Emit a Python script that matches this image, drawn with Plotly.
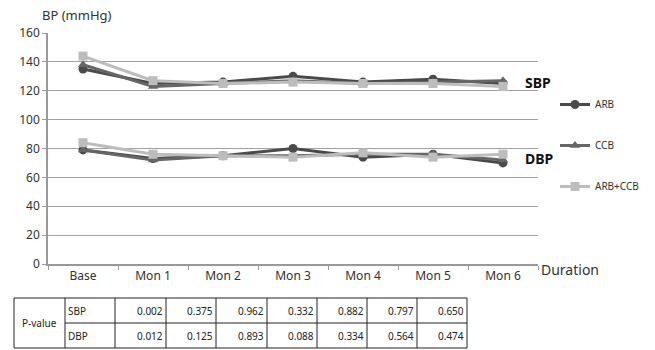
import plotly.graph_objects as go

categories = ["Base", "Mon 1", "Mon 2", "Mon 3", "Mon 4", "Mon 5", "Mon 6"]
sbp_arb = [135, 125, 126, 130, 126, 128, 125]
sbp_ccb = [138, 123, 125, 127, 125, 126, 127]
sbp_combo = [144, 127, 125, 126, 125, 125, 123]
dbp_arb = [79, 73, 75, 80, 74, 76, 70]
dbp_ccb = [79, 72, 75, 75, 76, 76, 72]
dbp_combo = [84, 76, 75, 74, 77, 74, 76]

pval_rows = ["SBP", "DBP"]
pval_sbp = ["0.002", "0.375", "0.962", "0.332", "0.882", "0.797", "0.650"]
pval_dbp = ["0.012", "0.125", "0.893", "0.088", "0.334", "0.564", "0.474"]

series = [
    ("ARB", sbp_arb, dbp_arb, "#4a4a4a", "circle"),
    ("CCB", sbp_ccb, dbp_ccb, "#666666", "triangle-up"),
    ("ARB+CCB", sbp_combo, dbp_combo, "#bdbdbd", "square"),
]

FONT = "Noto Sans"
fig = go.Figure()
for i, (name, s, d, col, sym) in enumerate(series):
    for j, vals in enumerate([s, d]):
        fig.add_trace(go.Scatter(
            x=categories, y=vals, mode="lines+markers", name=name,
            legendgroup=name, showlegend=(j == 0),
            line=dict(color=col, width=3),
            marker=dict(symbol=sym, size=9, color=col),
        ))

fig.update_layout(
    width=655, height=350,
    margin=dict(l=48, r=117, t=33, b=86),
    plot_bgcolor="white", paper_bgcolor="white",
    font=dict(family=FONT, size=12, color="#333333"),
    showlegend=True,
    legend=dict(xref="container", yref="container", x=555 / 655, y=1 - 90 / 350,
                xanchor="left", yanchor="top",
                font=dict(size=10, color="#333333"), tracegroupgap=22,
                itemwidth=30, bgcolor="rgba(0,0,0,0)"),
    xaxis=dict(type="category", showgrid=False, showline=True,
               linecolor="#999999", linewidth=1.5, ticks="outside",
               tickson="boundaries", ticklen=4, tickcolor="#999999",
               tickfont=dict(size=12, color="#333333"), range=[-0.5, 6.5]),
    yaxis=dict(range=[0, 160], dtick=20, showgrid=True, gridcolor="#a0a0a0",
               gridwidth=1.2, showline=True, linecolor="#999999", linewidth=1.5,
               ticks="outside", ticklen=4, tickcolor="#999999",
               tickfont=dict(size=12, color="#333333"), zeroline=False),
)

# Axis titles and series labels
fig.add_annotation(x=-0.016, y=1.0, xref="paper", yref="paper", yshift=7,
                   text="BP (mmHg)", showarrow=False, xanchor="left", yanchor="bottom",
                   font=dict(size=13, color="#333333"))
fig.add_annotation(x=1.0, y=0, xref="paper", yref="y", text="Duration", xshift=1, yshift=-5,
                   showarrow=False, xanchor="left", yanchor="middle",
                   font=dict(size=14, color="#333333"))
fig.add_annotation(x=6.5, y=sbp_arb[-1] + 1, xref="x", yref="y", xshift=-15, text="<b>SBP</b>",
                   showarrow=False, xanchor="left", yanchor="middle",
                   font=dict(size=14, color="#111111"))
fig.add_annotation(x=6.5, y=dbp_arb[-1] + 3, xref="x", yref="y", xshift=-15, text="<b>DBP</b>",
                   showarrow=False, xanchor="left", yanchor="middle",
                   font=dict(size=14, color="#111111"))

# P-value table drawn with shapes and annotations (paper coordinates)
plot_w, plot_h, left, bottom = 490.0, 231.0, 48.0, 264.0
def px(xp):
    return (xp - left) / plot_w
def py(yp):
    return (bottom - yp) / plot_h

col_edges = [14, 65, 115, 166, 216, 267, 317, 367, 417, 467]
row_edges = [298, 323, 348]
lc = "#222222"
fig.add_shape(type="rect", xref="paper", yref="paper",
              x0=px(col_edges[0]), x1=px(col_edges[-1]), y0=py(row_edges[0]), y1=py(row_edges[-1]),
              line=dict(color=lc, width=1))
for xe in col_edges[1:-1]:
    fig.add_shape(type="line", xref="paper", yref="paper", x0=px(xe), x1=px(xe),
                  y0=py(row_edges[0]), y1=py(row_edges[-1]), line=dict(color=lc, width=1))
fig.add_shape(type="line", xref="paper", yref="paper", x0=px(col_edges[1]), x1=px(col_edges[-1]),
              y0=py(row_edges[1]), y1=py(row_edges[1]), line=dict(color=lc, width=1))

tf = dict(size=10, color="#222222")
fig.add_annotation(x=px((col_edges[0] + col_edges[1]) / 2), y=py(row_edges[1]),
                   xref="paper", yref="paper", text="P-value", showarrow=False,
                   xanchor="center", yanchor="middle", font=tf)
for r, (lab, vals) in enumerate(zip(pval_rows, [pval_sbp, pval_dbp])):
    yc = py((row_edges[r] + row_edges[r + 1]) / 2)
    fig.add_annotation(x=px(col_edges[1] + 1), y=yc, xref="paper", yref="paper", text=lab,
                       showarrow=False, xanchor="left", yanchor="middle", font=tf)
    for c, v in enumerate(vals):
        fig.add_annotation(x=px(col_edges[c + 3] - 1), y=yc, xref="paper", yref="paper", text=v,
                           showarrow=False, xanchor="right", yanchor="middle", font=tf)

fig.write_html("out.html", config={"displayModeBar": False},
               post_script="document.body.style.margin='0';document.body.style.overflow='hidden';")
